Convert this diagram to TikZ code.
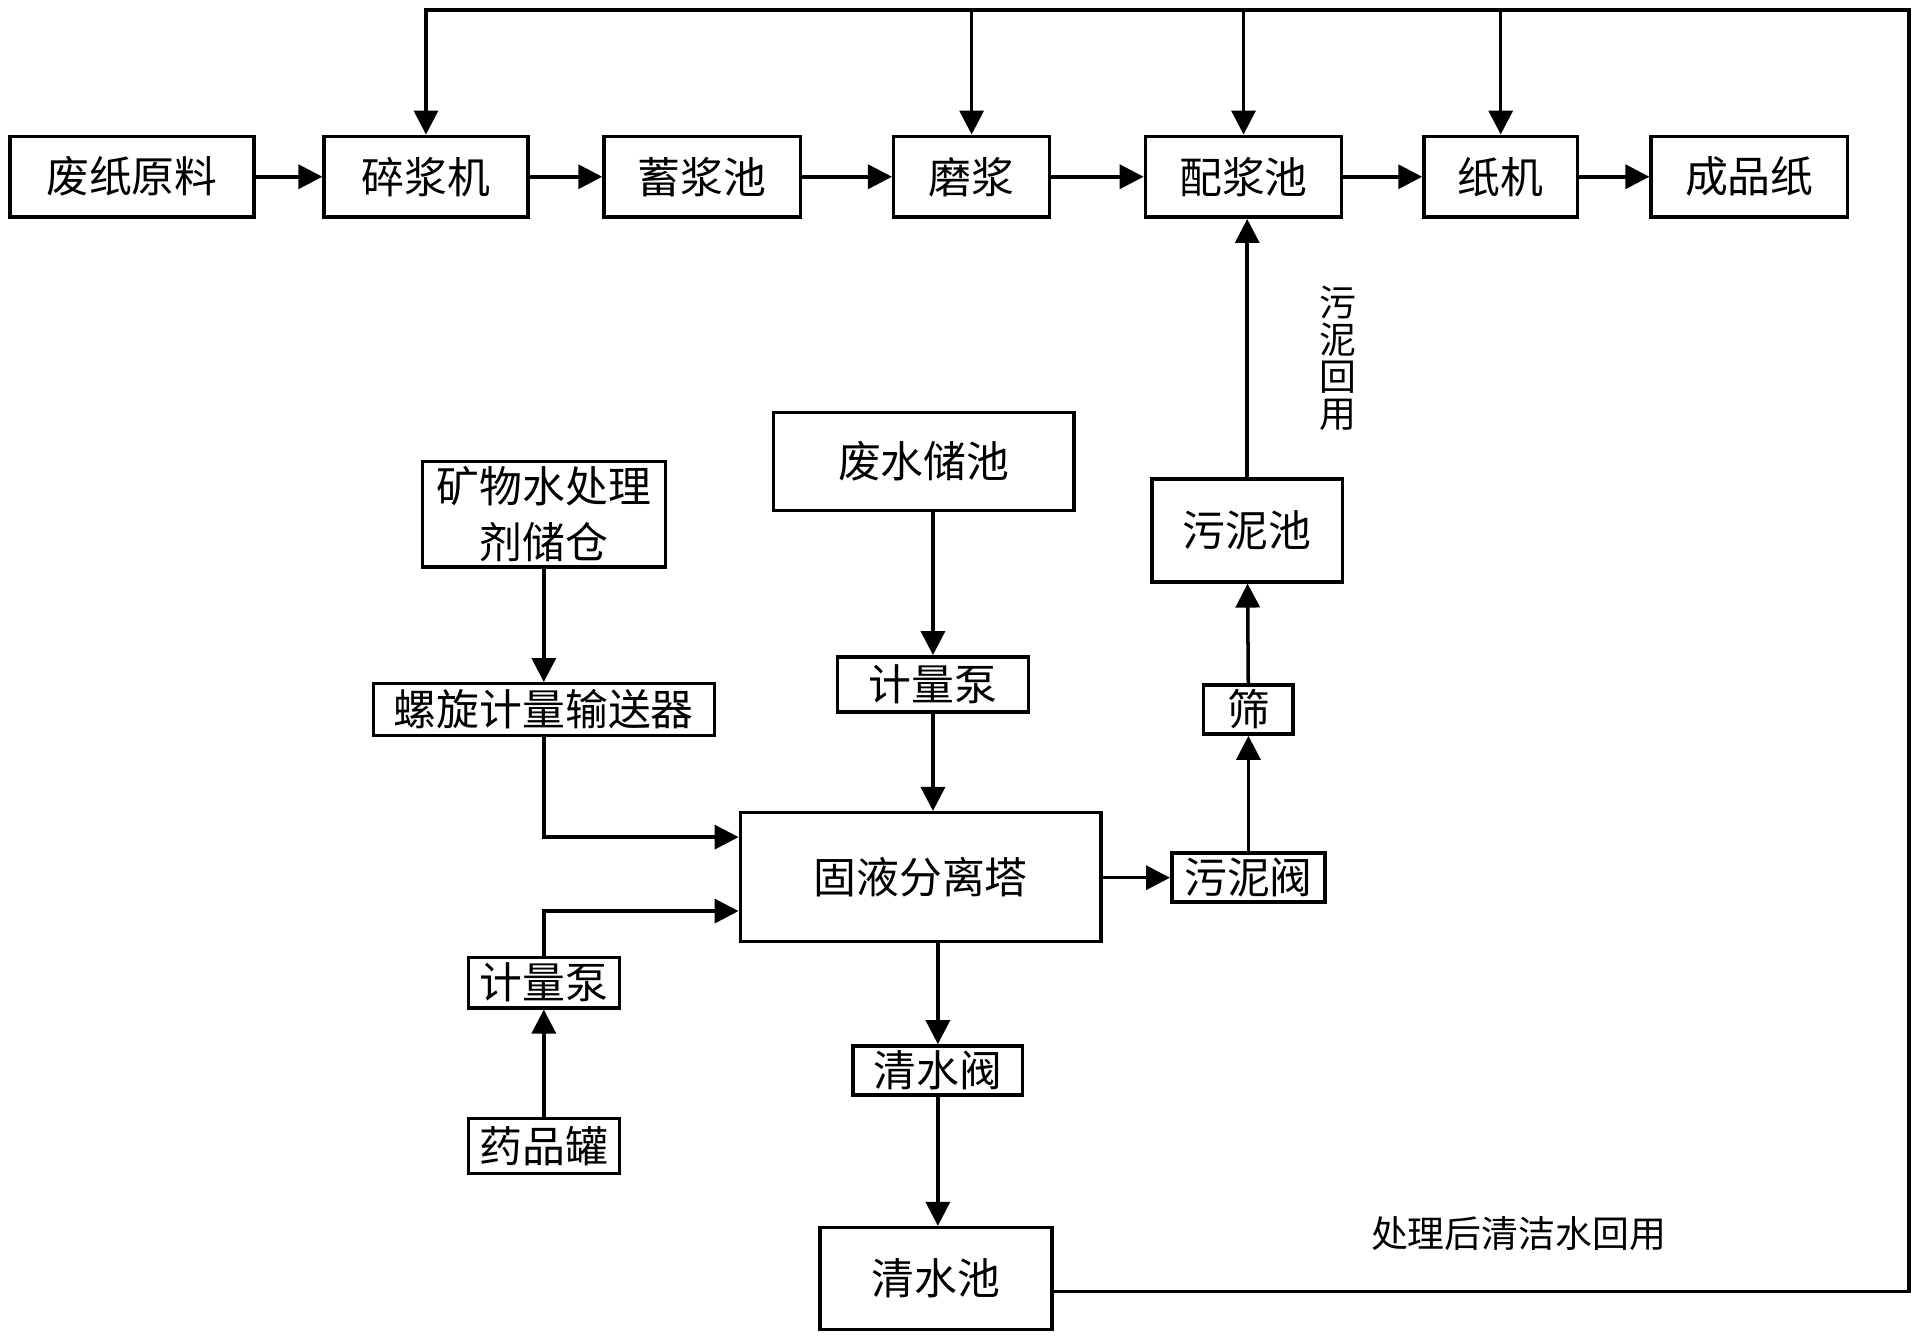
\documentclass[tikz,border=0pt]{standalone}
\usepackage{fontspec}
\usepackage{tikz}
\usetikzlibrary{arrows.meta, positioning, calc}
\newfontfamily\cjkfont{Noto Sans CJK SC}
\newcommand{\boxfont}{\cjkfont\fontsize{12.2}{16}\selectfont}
\newcommand{\notefont}{\cjkfont\fontsize{10.5}{10.5}\selectfont}
\tikzset{
  procbox/.style={draw, line width=1pt, inner sep=0pt, align=center, font=\boxfont},
  flow/.style={line width=1pt, -{Triangle[length=2.4mm, width=2.4mm]}},
  note/.style={align=center, inner sep=0pt, font=\notefont}
}

\begin{document}
\begin{tikzpicture}[x=0.012276cm, y=-0.012276cm]
    \useasboundingbox (0,0) rectangle (1560,1089.1);

    % Paper line
    \foreach \name/\txt/\x/\w in {raw/废纸原料/107.5/2.443, pulper/碎浆机/347/2.038,
        store/蓄浆池/572/1.964, refine/磨浆/791.5/1.559, blend/配浆池/1013/1.964,
        pm/纸机/1222.5/1.535, prod/成品纸/1425/1.964} {
        \node[procbox, minimum width=\w cm, minimum height=0.81cm] (\name) at (\x,144) {\txt};
    }
    \foreach \a/\b in {raw/pulper, pulper/store, store/refine, refine/blend, blend/pm, pm/prod}
        \draw[flow] (\a) -- (\b);

    % Wastewater treatment
    \node[procbox, minimum width=2.431cm, minimum height=1.056cm] (mineral) at (443,419) {矿物水处理\\剂储仓};
    \node[procbox, minimum width=3.413cm, minimum height=0.516cm] (screw) at (443,578) {螺旋计量输送器};
    \node[procbox, minimum width=1.510cm, minimum height=0.503cm] (dosepump) at (443,800.5) {计量泵};
    \node[procbox, minimum width=1.510cm, minimum height=0.552cm] (drugtank) at (443,933.5) {药品罐};
    \node[procbox, minimum width=3.008cm, minimum height=0.982cm] (wastepool) at (752.5,376) {废水储池};
    \node[procbox, minimum width=1.915cm, minimum height=0.552cm] (feedpump) at (760,557.5) {计量泵};
    \node[procbox, minimum width=3.609cm, minimum height=1.289cm] (sep) at (750,714.5) {固液分离塔};
    \node[procbox, minimum width=1.694cm, minimum height=0.491cm] (cleanvalve) at (764,872) {清水阀};
    \node[procbox, minimum width=2.320cm, minimum height=1.019cm] (cleanpool) at (762.5,1041.5) {清水池};
    \node[procbox, minimum width=1.535cm, minimum height=0.491cm] (sludgevalve) at (1017,715) {污泥阀};
    \node[procbox, minimum width=0.896cm, minimum height=0.491cm] (sieve) at (1017,578) {筛};
    \node[procbox, minimum width=1.903cm, minimum height=1.031cm] (sludgepool) at (1016,432) {污泥池};

    \draw[flow] (mineral) -- (screw);
    \draw[flow] (screw.south) |- ([yshift=0.4cm]sep.west);
    \draw[flow] (drugtank) -- (dosepump);
    \draw[flow] (dosepump.north) |- ([yshift=-0.34cm]sep.west);
    \draw[flow] (wastepool.south -| feedpump) -- (feedpump);
    \draw[flow] (feedpump) -- (feedpump |- sep.north);
    \draw[flow] (sep.south -| cleanvalve) -- (cleanvalve);
    \draw[flow] (cleanvalve) -- (cleanvalve |- cleanpool.north);
    \draw[flow] (sep.east |- sludgevalve) -- (sludgevalve);
    \draw[flow] (sludgevalve) -- (sieve);
    \draw[flow] (sieve) -- (sludgepool);
    \draw[flow] (sludgepool) -- (sludgepool |- blend.south);

    % Clean water back to the paper line
    \coordinate (ne) at (1555,8);
    \draw[flow] ([yshift=-0.13cm]cleanpool.east) -| (ne) -- (ne -| pulper) -- (pulper.north);
    \foreach \n in {refine, blend, pm}
        \draw[flow] (ne -| \n) -- (\n.north);

    \node[note] (sludgenote) at (1090,292) {污\\泥\\回\\用};
    \node[note] (reusenote) at (1237,1005) {处理后清洁水回用};
\end{tikzpicture}
\end{document}
